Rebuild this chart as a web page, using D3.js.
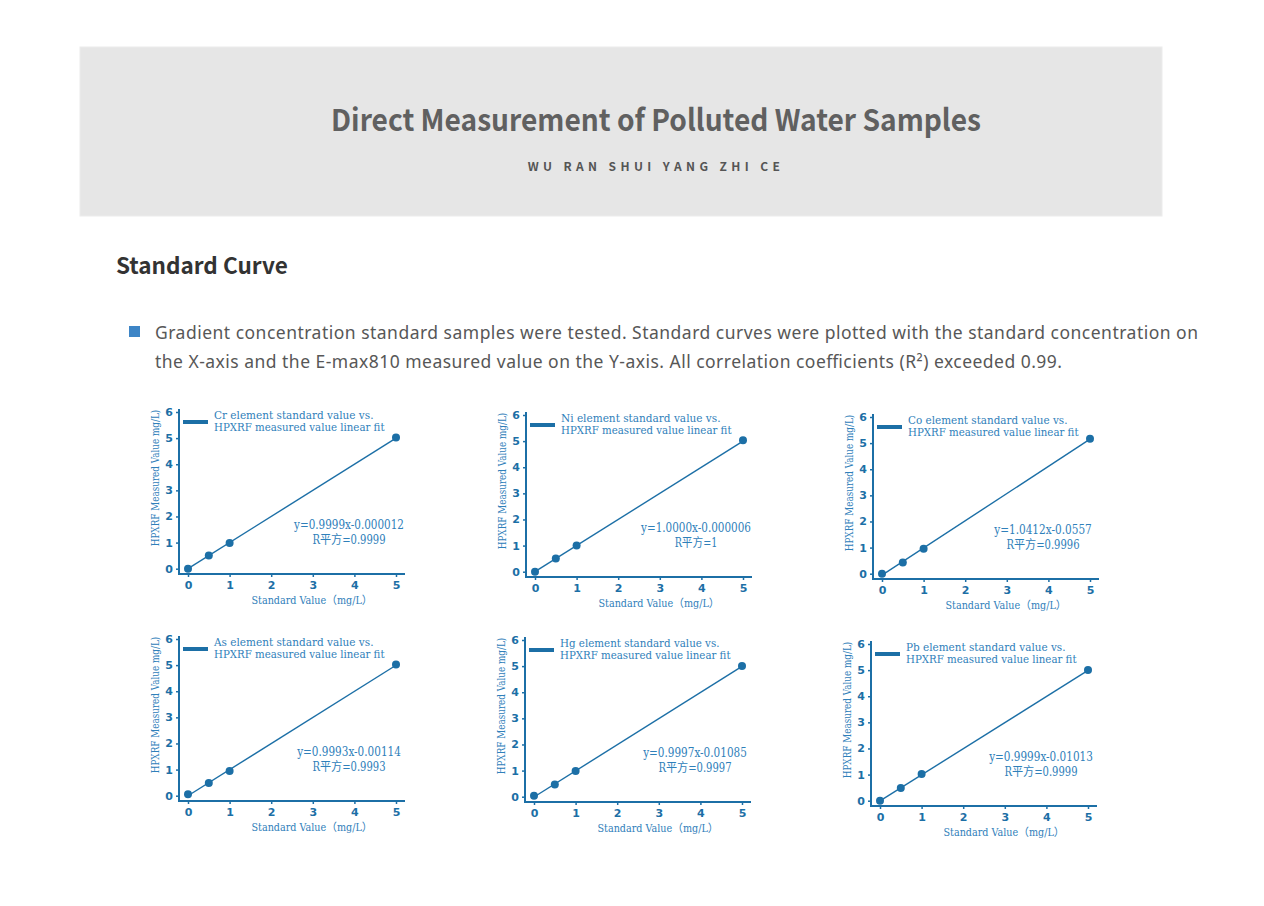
<!DOCTYPE html>
<html>
<head>
<meta charset="utf-8">
<script src="https://cdn.jsdelivr.net/npm/d3@7"></script>
<style>
  html, body { margin: 0; padding: 0; background: #fff; }
  svg { display: block; }
</style>
</head>
<body>
<div id="page"></div>
<script>
// --- data ---
const elements = ["Cr", "Ni", "Co", "As", "Hg", "Pb"];
const standardValues = [0, 0.5, 1, 5];
const crMeasured = [0.0, 0.51, 0.98, 5.02];
const niMeasured = [0.0, 0.51, 1.0, 5.03];
const coMeasured = [0.0, 0.43, 0.96, 5.17];
const asMeasured = [0.06, 0.49, 0.95, 5.02];
const hgMeasured = [0.04, 0.47, 0.98, 5.0];
const pbMeasured = [0.0, 0.49, 1.02, 5.0];
const slopes = [0.9999, 1.0000, 1.0412, 0.9993, 0.9997, 0.9999];
const intercepts = [-0.000012, -0.000006, -0.0557, -0.00114, -0.01085, -0.01013];
const equationLabels = ["y=0.9999x-0.000012", "y=1.0000x-0.000006", "y=1.0412x-0.0557",
                        "y=0.9993x-0.00114", "y=0.9997x-0.01085", "y=0.9999x-0.01013"];
const rSquaredLabels = ["0.9999", "1", "0.9996", "0.9993", "0.9997", "0.9999"];
const xTicks = [0, 1, 2, 3, 4, 5];
const yTicks = [0, 1, 2, 3, 4, 5, 6];

const measured = [crMeasured, niMeasured, coMeasured, asMeasured, hgMeasured, pbMeasured];

// --- layout ---
const width = 1264, height = 906;
const axisColor = "#1c6fa6";
const textColor = "#2f80ba";
const chartFont = "'DejaVu Serif', 'Noto Sans CJK SC', serif";
// corner of each panel (where the two axis lines meet)
const panelOrigins = [[179, 574], [526, 577], [873, 579], [179, 801], [525, 802], [871, 806]];

const svg = d3.select("#page").append("svg")
    .attr("width", width)
    .attr("height", height);

// header band
svg.append("rect")
    .attr("x", 80).attr("y", 47)
    .attr("width", 1082).attr("height", 169)
    .attr("fill", "#e6e6e6")
    .attr("stroke", "#ececec");

svg.append("text")
    .attr("x", 656).attr("y", 131)
    .attr("text-anchor", "middle")
    .attr("font-family", "'Noto Sans CJK SC', sans-serif")
    .attr("font-weight", 700)
    .attr("font-size", 30)
    .attr("fill", "#606060")
    .attr("textLength", 650)
    .attr("lengthAdjust", "spacingAndGlyphs")
    .text("Direct Measurement of Polluted Water Samples");

svg.append("text")
    .attr("x", 656).attr("y", 171)
    .attr("text-anchor", "middle")
    .attr("font-family", "'Noto Sans CJK SC', sans-serif")
    .attr("font-weight", 700)
    .attr("font-size", 12)
    .attr("letter-spacing", 4.4)
    .attr("fill", "#555")
    .text("WU RAN SHUI YANG ZHI CE");

svg.append("text")
    .attr("x", 116).attr("y", 274)
    .attr("font-family", "'Noto Sans CJK SC', sans-serif")
    .attr("font-weight", 700)
    .attr("font-size", 22.5)
    .attr("fill", "#333")
    .text("Standard Curve");

// bullet paragraph
svg.append("rect")
    .attr("x", 129).attr("y", 326)
    .attr("width", 11).attr("height", 11)
    .attr("fill", "#3d85c6");

const paragraph = [
    "Gradient concentration standard samples were tested. Standard curves were plotted with the standard concentration on",
    "the X-axis and the E-max810 measured value on the Y-axis. All correlation coefficients (R\u00B2) exceeded 0.99."
];
const paraWidths = [1043, 907];
svg.selectAll(".para")
    .data(paragraph)
    .join("text")
    .attr("class", "para")
    .attr("x", 155)
    .attr("y", (d, i) => 339 + i * 29)
    .attr("font-family", "'Noto Sans', sans-serif")
    .attr("font-size", 17.5)
    .attr("fill", "#575757")
    .attr("textLength", (d, i) => paraWidths[i])
    .attr("lengthAdjust", "spacing")
    .text(d => d);

// width of a line of chart text: half-width chars take half the font size, CJK the full size
function textWidth(s, size) {
    let w = 0;
    for (const ch of s) w += /[\u4e00-\u9fff\uff00-\uffef]/.test(ch) ? size : size / 2;
    return w;
}

function chartText(sel, size) {
    return sel
        .attr("font-family", chartFont)
        .attr("font-stretch", "condensed")
        .attr("font-size", size)
        .attr("fill", textColor)
        .attr("textLength", d => textWidth(d, size))
        .attr("lengthAdjust", "spacingAndGlyphs")
        .text(d => d);
}

const x = d3.scaleLinear().domain([0, 5]).range([9, 217]);
const y = d3.scaleLinear().domain([0, 6]).range([-5.3, -162]);

elements.forEach((el, i) => {
    const [ox, oy] = panelOrigins[i];
    const g = svg.append("g").attr("transform", `translate(${ox},${oy})`);

    // axis lines
    g.append("line")
        .attr("x1", 0).attr("x2", 0).attr("y1", 1).attr("y2", -165)
        .attr("stroke", axisColor).attr("stroke-width", 2);
    g.append("line")
        .attr("x1", -1).attr("x2", 226).attr("y1", 0).attr("y2", 0)
        .attr("stroke", axisColor).attr("stroke-width", 2);

    const yAxis = g.append("g")
        .call(d3.axisLeft(y).tickValues(yTicks).tickFormat(d3.format("d"))
            .tickSize(3).tickPadding(3).tickSizeOuter(0));
    const xAxis = g.append("g")
        .call(d3.axisBottom(x).tickValues(xTicks).tickFormat(d3.format("d"))
            .tickSize(3).tickPadding(4.5).tickSizeOuter(0));
    [xAxis, yAxis].forEach(a => {
        a.select(".domain").remove();
        a.selectAll("line").attr("stroke", axisColor).attr("stroke-width", 1.5);
        a.selectAll("text")
            .attr("fill", axisColor)
            .attr("font-family", "'DejaVu Sans', sans-serif")
            .attr("font-weight", 700)
            .attr("font-size", 11);
    });

    // fit line
    const fit = d3.line().x(d => x(d)).y(d => y(slopes[i] * d + intercepts[i]));
    g.append("path")
        .attr("d", fit([0, 5]))
        .attr("fill", "none")
        .attr("stroke", axisColor)
        .attr("stroke-width", 1.4);

    // points
    g.selectAll("circle")
        .data(standardValues.map((s, j) => [s, measured[i][j]]))
        .join("circle")
        .attr("cx", d => x(d[0]))
        .attr("cy", d => y(d[1]))
        .attr("r", 4)
        .attr("fill", axisColor);

    // legend
    g.append("rect")
        .attr("x", 4).attr("y", -154)
        .attr("width", 25).attr("height", 4)
        .attr("fill", axisColor);
    const legendLines = [`${el} element standard value vs.`, "HPXRF measured value linear fit"];
    g.selectAll(".legend")
        .data(legendLines)
        .join("text")
        .attr("class", "legend")
        .attr("x", 35)
        .attr("y", (d, j) => -155 + j * 12)
        .call(chartText, 11);

    // equation
    const eqLines = [equationLabels[i], `R\u5e73\u65b9=${rSquaredLabels[i]}`];
    g.selectAll(".eq")
        .data(eqLines)
        .join("text")
        .attr("class", "eq")
        .attr("x", 170)
        .attr("y", (d, j) => -45 + j * 14.5)
        .attr("text-anchor", "middle")
        .call(chartText, 12.2);

    // axis titles
    g.selectAll(".xtitle")
        .data(["Standard Value\uff08mg/L\uff09"])
        .join("text")
        .attr("class", "xtitle")
        .attr("x", 133).attr("y", 29.5)
        .attr("text-anchor", "middle")
        .call(chartText, 11);

    g.selectAll(".ytitle")
        .data(["HPXRF Measured Value mg/L)"])
        .join("text")
        .attr("class", "ytitle")
        .attr("transform", "translate(-20,-96) rotate(-90)")
        .attr("text-anchor", "middle")
        .call(chartText, 10.5);
});
</script>
</body>
</html>
